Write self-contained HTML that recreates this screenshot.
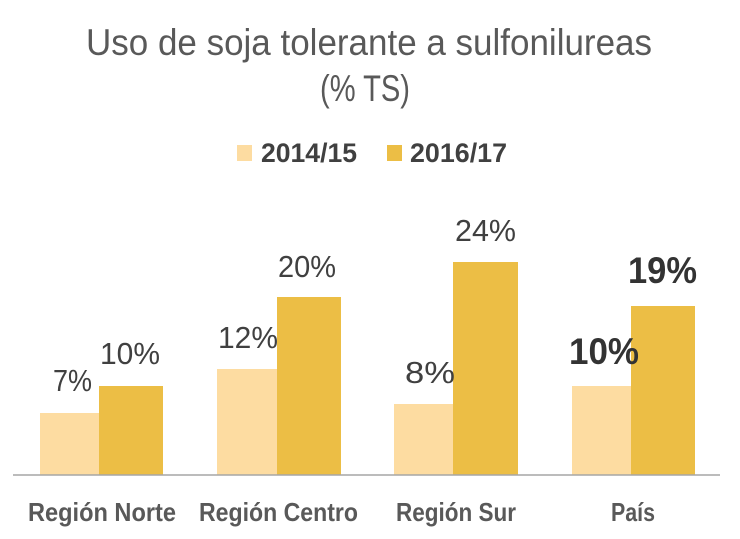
<!DOCTYPE html>
<html>
<head>
<meta charset="utf-8">
<style>
html,body{margin:0;padding:0;background:#fff;}
svg{display:block;}
text{font-family:"Liberation Sans",Arial,sans-serif;}
</style>
</head>
<body>
<svg width="740" height="539" viewBox="0 0 740 539" xmlns="http://www.w3.org/2000/svg">
<rect width="740" height="539" fill="#fff"/>
<!-- Title -->
<text x="86" y="55" font-size="37" fill="#595959" textLength="566" lengthAdjust="spacingAndGlyphs">Uso de soja tolerante a sulfonilureas</text>
<text x="320" y="101" font-size="37" fill="#595959" textLength="90" lengthAdjust="spacingAndGlyphs">(% TS)</text>
<!-- Legend -->
<rect x="237" y="145" width="15" height="16" fill="#FDDCA1"/>
<text x="261" y="162" font-size="27" font-weight="bold" fill="#404040" textLength="96" lengthAdjust="spacingAndGlyphs">2014/15</text>
<rect x="387" y="145" width="15" height="16" fill="#ECBE45"/>
<text x="410" y="162" font-size="27" font-weight="bold" fill="#404040" textLength="97" lengthAdjust="spacingAndGlyphs">2016/17</text>
<!-- Bars -->
<rect x="40" y="413" width="59" height="62" fill="#FDDCA1"/>
<rect x="99" y="386" width="64" height="89" fill="#ECBE45"/>
<rect x="217" y="369" width="60" height="106" fill="#FDDCA1"/>
<rect x="277" y="297" width="64" height="178" fill="#ECBE45"/>
<rect x="394" y="404" width="59" height="71" fill="#FDDCA1"/>
<rect x="453" y="262" width="65" height="213" fill="#ECBE45"/>
<rect x="572" y="386" width="59" height="89" fill="#FDDCA1"/>
<rect x="631" y="306" width="64" height="169" fill="#ECBE45"/>
<!-- Axis -->
<line x1="13" y1="475" x2="720" y2="475" stroke="#A6A6A6" stroke-width="1.5"/>
<!-- Data labels -->
<text x="53" y="391" font-size="31" fill="#404040" textLength="39" lengthAdjust="spacingAndGlyphs">7%</text>
<text x="100" y="364" font-size="31" fill="#404040" textLength="60" lengthAdjust="spacingAndGlyphs">10%</text>
<text x="218" y="348" font-size="31" fill="#404040" textLength="60" lengthAdjust="spacingAndGlyphs">12%</text>
<text x="278" y="277" font-size="31" fill="#404040" textLength="58" lengthAdjust="spacingAndGlyphs">20%</text>
<text x="405" y="383" font-size="31" fill="#404040" textLength="50" lengthAdjust="spacingAndGlyphs">8%</text>
<text x="455" y="241" font-size="31" fill="#404040" textLength="61" lengthAdjust="spacingAndGlyphs">24%</text>
<text x="569" y="364" font-size="37" font-weight="bold" fill="#333333" textLength="70" lengthAdjust="spacingAndGlyphs">10%</text>
<text x="628" y="283" font-size="37" font-weight="bold" fill="#333333" textLength="69" lengthAdjust="spacingAndGlyphs">19%</text>
<!-- Category labels -->
<text x="28" y="521" font-size="26" font-weight="bold" fill="#595959" textLength="148" lengthAdjust="spacingAndGlyphs">Región Norte</text>
<text x="199" y="521" font-size="26" font-weight="bold" fill="#595959" textLength="159" lengthAdjust="spacingAndGlyphs">Región Centro</text>
<text x="396" y="521" font-size="26" font-weight="bold" fill="#595959" textLength="120" lengthAdjust="spacingAndGlyphs">Región Sur</text>
<text x="611" y="521" font-size="26" font-weight="bold" fill="#595959" textLength="44" lengthAdjust="spacingAndGlyphs">País</text>
</svg>
</body>
</html>
